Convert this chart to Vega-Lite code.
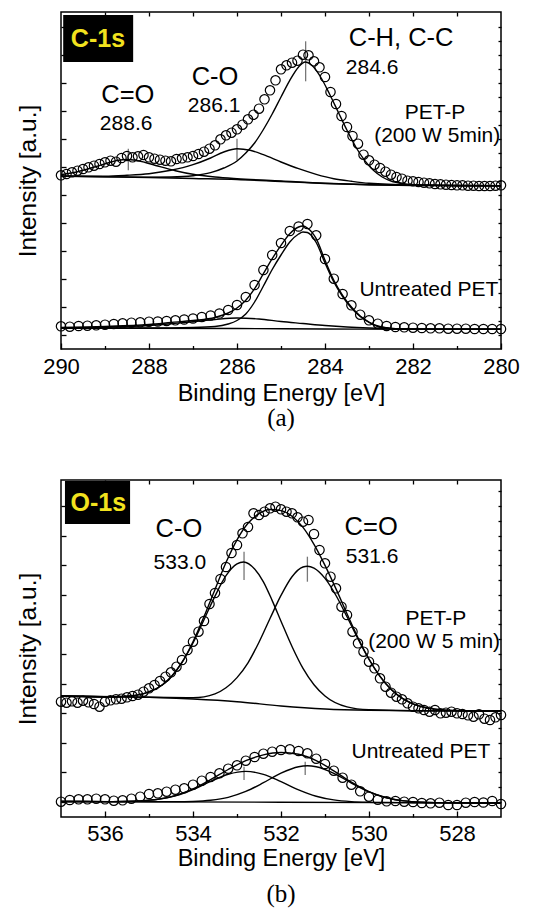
{
  "$schema": "https://vega.github.io/schema/vega-lite/v6.json",
  "padding": {"left": 14, "top": 10, "right": 5, "bottom": 5},
  "spacing": 131,
  "bounds": "flush",
  "config": {
    "font": "Liberation Sans",
    "view": {"stroke": "black", "strokeWidth": 1.5},
    "axis": {"domain": false, "grid": false, "tickColor": "black", "tickWidth": 1.3, "labelColor": "black", "titleColor": "black", "titleFontWeight": "normal"},
    "title": {"fontWeight": "normal", "color": "black"}
  },
  "datasets": {
    "a_box": [{"e": 289.95, "e2": 288.36, "i": 287, "i2": 334, "tx": 289.16, "ty": 310.5, "t": "C-1s"}],
    "b_box": [{"e": 536.91, "e2": 535.43, "i": 293, "i2": 336, "tx": 536.15, "ty": 314.3, "t": "O-1s"}],
    "a_mk": [
      {"e": 284.44, "i": 267.7, "i2": 307.7},
      {"e": 286.0, "i": 188.7, "i2": 210.3},
      {"e": 288.47, "i": 178.7, "i2": 200.3}
    ],
    "b_mk": [
      {"e": 532.84, "i": 237, "i2": 265.3},
      {"e": 531.4, "i": 235.3, "i2": 260.3},
      {"e": 532.84, "i": 37, "i2": 50.3},
      {"e": 531.45, "i": 42, "i2": 55.3}
    ],
    "a_txt": [
      {"e": 282.27, "i": 311, "t": "C-H, C-C", "k": "big"},
      {"e": 286.5, "i": 272, "t": "C-O", "k": "big"},
      {"e": 288.48, "i": 254, "t": "C=O", "k": "big"},
      {"e": 282.93, "i": 281, "t": "284.6", "k": "small"},
      {"e": 286.52, "i": 243, "t": "286.1", "k": "small"},
      {"e": 288.52, "i": 225, "t": "288.6", "k": "small"},
      {"e": 281.5, "i": 236, "t": "PET-P", "k": "small"},
      {"e": 281.45, "i": 213, "t": "(200 W 5min)", "k": "small"},
      {"e": 281.64, "i": 59, "t": "Untreated PET", "k": "small"}
    ],
    "b_txt": [
      {"e": 534.32, "i": 288, "t": "C-O", "k": "big"},
      {"e": 529.95, "i": 290, "t": "C=O", "k": "big"},
      {"e": 534.3, "i": 254, "t": "533.0", "k": "small"},
      {"e": 529.93, "i": 260, "t": "531.6", "k": "small"},
      {"e": 528.48, "i": 198, "t": "PET-P", "k": "small"},
      {"e": 528.52, "i": 175, "t": "(200 W 5 min)", "k": "small"},
      {"e": 528.82, "i": 65, "t": "Untreated PET", "k": "small"}
    ],
    "a_pts": [
      {"e":290.000,"i":173.7,"s":"P"},{"e":289.875,"i":175,"s":"P"},{"e":289.750,"i":176.7,"s":"P"},{"e":289.625,"i":178.3,"s":"P"},
      {"e":289.500,"i":180,"s":"P"},{"e":289.375,"i":181.7,"s":"P"},{"e":289.250,"i":183.3,"s":"P"},{"e":289.125,"i":185,"s":"P"},
      {"e":289.000,"i":186.7,"s":"P"},{"e":288.875,"i":188.3,"s":"P"},{"e":288.750,"i":187.3,"s":"P"},{"e":288.625,"i":191,"s":"P"},
      {"e":288.500,"i":193,"s":"P"},{"e":288.375,"i":191.7,"s":"P"},{"e":288.250,"i":192.7,"s":"P"},{"e":288.125,"i":194,"s":"P"},
      {"e":288.000,"i":191.7,"s":"P"},{"e":287.875,"i":190.3,"s":"P"},{"e":287.750,"i":189.3,"s":"P"},{"e":287.625,"i":188.3,"s":"P"},
      {"e":287.500,"i":187.7,"s":"P"},{"e":287.375,"i":190,"s":"P"},{"e":287.250,"i":190.7,"s":"P"},{"e":287.125,"i":191.7,"s":"P"},
      {"e":287.000,"i":193,"s":"P"},{"e":286.875,"i":195,"s":"P"},{"e":286.750,"i":197.3,"s":"P"},{"e":286.625,"i":200.3,"s":"P"},
      {"e":286.500,"i":203.7,"s":"P"},{"e":286.375,"i":209.7,"s":"P"},{"e":286.250,"i":213.7,"s":"P"},{"e":286.125,"i":216.3,"s":"P"},
      {"e":286.000,"i":219.7,"s":"P"},{"e":285.875,"i":224.3,"s":"P"},{"e":285.750,"i":229.7,"s":"P"},{"e":285.625,"i":234.3,"s":"P"},
      {"e":285.500,"i":240.3,"s":"P"},{"e":285.375,"i":249.7,"s":"P"},{"e":285.250,"i":258.7,"s":"P"},{"e":285.125,"i":268.7,"s":"P"},
      {"e":285.000,"i":279.7,"s":"P"},{"e":284.875,"i":283.7,"s":"P"},{"e":284.750,"i":286.3,"s":"P"},{"e":284.625,"i":288.3,"s":"P"},
      {"e":284.500,"i":294.3,"s":"P"},{"e":284.375,"i":293.7,"s":"P"},{"e":284.250,"i":287.7,"s":"P"},{"e":284.125,"i":281.7,"s":"P"},
      {"e":284.000,"i":272,"s":"P"},{"e":283.875,"i":257,"s":"P"},{"e":283.750,"i":245,"s":"P"},{"e":283.625,"i":233,"s":"P"},
      {"e":283.500,"i":222,"s":"P"},{"e":283.375,"i":213,"s":"P"},{"e":283.250,"i":205.3,"s":"P"},{"e":283.125,"i":194.3,"s":"P"},
      {"e":283.000,"i":188.7,"s":"P"},{"e":282.875,"i":184.3,"s":"P"},{"e":282.750,"i":181,"s":"P"},{"e":282.625,"i":177.3,"s":"P"},
      {"e":282.500,"i":174.3,"s":"P"},{"e":282.375,"i":172,"s":"P"},{"e":282.250,"i":170.3,"s":"P"},{"e":282.125,"i":168.3,"s":"P"},
      {"e":282.000,"i":167.7,"s":"P"},{"e":281.875,"i":167,"s":"P"},{"e":281.750,"i":166.3,"s":"P"},{"e":281.625,"i":165.7,"s":"P"},
      {"e":281.500,"i":165,"s":"P"},{"e":281.375,"i":164.7,"s":"P"},{"e":281.250,"i":164.3,"s":"P"},{"e":281.125,"i":164,"s":"P"},
      {"e":281.000,"i":163.7,"s":"P"},{"e":280.875,"i":163.7,"s":"P"},{"e":280.750,"i":163.3,"s":"P"},{"e":280.625,"i":163.3,"s":"P"},
      {"e":280.500,"i":163,"s":"P"},{"e":280.375,"i":163,"s":"P"},{"e":280.250,"i":163,"s":"P"},{"e":280.125,"i":163.3,"s":"P"},
      {"e":280.000,"i":163.7,"s":"P"},
      {"e":290.0,"i":22.7,"s":"U"},{"e":289.8,"i":22.3,"s":"U"},{"e":289.6,"i":23,"s":"U"},{"e":289.4,"i":23.3,"s":"U"},
      {"e":289.2,"i":23.7,"s":"U"},{"e":289.0,"i":24.3,"s":"U"},{"e":288.8,"i":25,"s":"U"},{"e":288.6,"i":25.7,"s":"U"},
      {"e":288.4,"i":26.3,"s":"U"},{"e":288.2,"i":26.7,"s":"U"},{"e":288.0,"i":27.3,"s":"U"},{"e":287.8,"i":27.5,"s":"U"},
      {"e":287.6,"i":28,"s":"U"},{"e":287.4,"i":28.7,"s":"U"},{"e":287.2,"i":29.5,"s":"U"},{"e":287.0,"i":30.5,"s":"U"},
      {"e":286.8,"i":32,"s":"U"},{"e":286.6,"i":33.5,"s":"U"},{"e":286.4,"i":35.5,"s":"U"},{"e":286.2,"i":39,"s":"U"},
      {"e":286.0,"i":44,"s":"U"},{"e":285.8,"i":52,"s":"U"},{"e":285.6,"i":64,"s":"U"},{"e":285.4,"i":79,"s":"U"},
      {"e":285.2,"i":94,"s":"U"},{"e":285.0,"i":106,"s":"U"},{"e":284.8,"i":118,"s":"U"},{"e":284.6,"i":122.5,"s":"U"},
      {"e":284.4,"i":125,"s":"U"},{"e":284.2,"i":113.7,"s":"U"},{"e":284.0,"i":90,"s":"U"},{"e":283.8,"i":70.3,"s":"U"},
      {"e":283.6,"i":55,"s":"U"},{"e":283.4,"i":43.7,"s":"U"},{"e":283.2,"i":34.3,"s":"U"},{"e":283.0,"i":28.7,"s":"U"},
      {"e":282.8,"i":25.3,"s":"U"},{"e":282.6,"i":23,"s":"U"},{"e":282.4,"i":22,"s":"U"},{"e":282.2,"i":21.7,"s":"U"},
      {"e":282.0,"i":21.3,"s":"U"},{"e":281.8,"i":21,"s":"U"},{"e":281.6,"i":20.7,"s":"U"},{"e":281.4,"i":20.7,"s":"U"},
      {"e":281.2,"i":20.3,"s":"U"},{"e":281.0,"i":20.3,"s":"U"},{"e":280.8,"i":20.3,"s":"U"},{"e":280.6,"i":20,"s":"U"},
      {"e":280.4,"i":20,"s":"U"},{"e":280.2,"i":20,"s":"U"},{"e":280.0,"i":20,"s":"U"}
    ],
    "a_lines": [
      {"e":290,"i":172.7,"c":"p_bg"},{"e":289,"i":172.3,"c":"p_bg"},{"e":288,"i":171.5,"c":"p_bg"},{"e":287,"i":170.5,"c":"p_bg"},
      {"e":286,"i":169.5,"c":"p_bg"},{"e":285,"i":167.5,"c":"p_bg"},{"e":284,"i":165.5,"c":"p_bg"},{"e":283,"i":164.3,"c":"p_bg"},
      {"e":282,"i":163.5,"c":"p_bg"},{"e":281,"i":163.3,"c":"p_bg"},{"e":280,"i":163.3,"c":"p_bg"},
      {"e":290,"i":174.3,"c":"p_cdo"},{"e":289.6,"i":177.5,"c":"p_cdo"},{"e":289.2,"i":182.5,"c":"p_cdo"},{"e":288.9,"i":186.5,"c":"p_cdo"},
      {"e":288.7,"i":188.7,"c":"p_cdo"},{"e":288.5,"i":189.5,"c":"p_cdo"},{"e":288.3,"i":188.7,"c":"p_cdo"},{"e":288.1,"i":186.8,"c":"p_cdo"},
      {"e":287.8,"i":183,"c":"p_cdo"},{"e":287.4,"i":178.3,"c":"p_cdo"},{"e":287,"i":174.7,"c":"p_cdo"},{"e":286.5,"i":172,"c":"p_cdo"},
      {"e":286,"i":170.3,"c":"p_cdo"},{"e":285,"i":168,"c":"p_cdo"},{"e":284,"i":165.7,"c":"p_cdo"},{"e":283,"i":164.3,"c":"p_cdo"},
      {"e":282,"i":163.7,"c":"p_cdo"},{"e":280,"i":163.3,"c":"p_cdo"},
      {"e":290,"i":173,"c":"p_co"},{"e":289,"i":172.8,"c":"p_co"},{"e":288.5,"i":173.7,"c":"p_co"},{"e":288,"i":175.3,"c":"p_co"},
      {"e":287.5,"i":178.7,"c":"p_co"},{"e":287,"i":184.3,"c":"p_co"},{"e":286.6,"i":191,"c":"p_co"},{"e":286.3,"i":197,"c":"p_co"},
      {"e":286,"i":200.3,"c":"p_co"},{"e":285.7,"i":198.7,"c":"p_co"},{"e":285.4,"i":194.3,"c":"p_co"},{"e":285,"i":187,"c":"p_co"},
      {"e":284.6,"i":180.3,"c":"p_co"},{"e":284.2,"i":174.7,"c":"p_co"},{"e":283.8,"i":170.3,"c":"p_co"},{"e":283.4,"i":167.7,"c":"p_co"},
      {"e":283,"i":165.7,"c":"p_co"},{"e":282,"i":164,"c":"p_co"},{"e":280,"i":163.3,"c":"p_co"},
      {"e":290,"i":172.7,"c":"p_ch"},{"e":289,"i":172.3,"c":"p_ch"},{"e":288,"i":171.8,"c":"p_ch"},{"e":287.5,"i":172,"c":"p_ch"},
      {"e":287,"i":173.3,"c":"p_ch"},{"e":286.6,"i":176.3,"c":"p_ch"},{"e":286.3,"i":181,"c":"p_ch"},{"e":286,"i":188,"c":"p_ch"},
      {"e":285.8,"i":196,"c":"p_ch"},{"e":285.6,"i":206,"c":"p_ch"},{"e":285.4,"i":219.5,"c":"p_ch"},{"e":285.2,"i":235,"c":"p_ch"},
      {"e":285,"i":252,"c":"p_ch"},{"e":284.8,"i":268.7,"c":"p_ch"},{"e":284.6,"i":282,"c":"p_ch"},{"e":284.45,"i":287,"c":"p_ch"},
      {"e":284.3,"i":283.7,"c":"p_ch"},{"e":284.1,"i":272,"c":"p_ch"},{"e":283.9,"i":255.3,"c":"p_ch"},{"e":283.7,"i":237,"c":"p_ch"},
      {"e":283.5,"i":218.7,"c":"p_ch"},{"e":283.3,"i":202,"c":"p_ch"},{"e":283.1,"i":188.7,"c":"p_ch"},{"e":282.9,"i":178.7,"c":"p_ch"},
      {"e":282.7,"i":172,"c":"p_ch"},{"e":282.5,"i":168,"c":"p_ch"},{"e":282.2,"i":165.3,"c":"p_ch"},{"e":281.8,"i":164,"c":"p_ch"},
      {"e":281,"i":163.3,"c":"p_ch"},{"e":280,"i":163.3,"c":"p_ch"},
      {"e":290,"i":20.8,"c":"u_bg"},{"e":286,"i":20.5,"c":"u_bg"},{"e":284,"i":20,"c":"u_bg"},{"e":282,"i":19.7,"c":"u_bg"},{"e":280,"i":19.7,"c":"u_bg"},
      {"e":290,"i":21,"c":"u_co"},{"e":289,"i":21.8,"c":"u_co"},{"e":288,"i":23.5,"c":"u_co"},{"e":287.5,"i":25.3,"c":"u_co"},
      {"e":287,"i":27.2,"c":"u_co"},{"e":286.5,"i":29.5,"c":"u_co"},{"e":286,"i":31,"c":"u_co"},{"e":285.5,"i":30,"c":"u_co"},
      {"e":285,"i":27.5,"c":"u_co"},{"e":284.5,"i":25.5,"c":"u_co"},{"e":284,"i":23.5,"c":"u_co"},{"e":283.5,"i":22,"c":"u_co"},
      {"e":283,"i":21,"c":"u_co"},{"e":282,"i":20,"c":"u_co"},{"e":280,"i":19.7,"c":"u_co"},
      {"e":290,"i":21,"c":"u_ch"},{"e":288,"i":21,"c":"u_ch"},{"e":287,"i":21.5,"c":"u_ch"},{"e":286.5,"i":22.5,"c":"u_ch"},
      {"e":286.2,"i":25,"c":"u_ch"},{"e":286,"i":28.5,"c":"u_ch"},{"e":285.8,"i":35,"c":"u_ch"},{"e":285.6,"i":47,"c":"u_ch"},
      {"e":285.4,"i":63,"c":"u_ch"},{"e":285.2,"i":79.5,"c":"u_ch"},{"e":285,"i":94,"c":"u_ch"},{"e":284.8,"i":107,"c":"u_ch"},
      {"e":284.6,"i":115,"c":"u_ch"},{"e":284.5,"i":117,"c":"u_ch"},{"e":284.4,"i":116.5,"c":"u_ch"},{"e":284.2,"i":106.5,"c":"u_ch"},
      {"e":284,"i":86,"c":"u_ch"},{"e":283.8,"i":67,"c":"u_ch"},{"e":283.6,"i":52.5,"c":"u_ch"},{"e":283.4,"i":41,"c":"u_ch"},
      {"e":283.2,"i":32.5,"c":"u_ch"},{"e":283,"i":26.5,"c":"u_ch"},{"e":282.8,"i":22.5,"c":"u_ch"},{"e":282.6,"i":21,"c":"u_ch"},
      {"e":282.4,"i":20.2,"c":"u_ch"},{"e":282,"i":19.8,"c":"u_ch"},{"e":280,"i":19.7,"c":"u_ch"},
      {"e":290,"i":21.5,"c":"u_env"},{"e":289,"i":22.5,"c":"u_env"},{"e":288,"i":24.5,"c":"u_env"},{"e":287.5,"i":26.5,"c":"u_env"},
      {"e":287,"i":28.5,"c":"u_env"},{"e":286.5,"i":31.5,"c":"u_env"},{"e":286.2,"i":36,"c":"u_env"},{"e":286,"i":41,"c":"u_env"},
      {"e":285.8,"i":48.7,"c":"u_env"},{"e":285.6,"i":60.3,"c":"u_env"},{"e":285.4,"i":75.3,"c":"u_env"},{"e":285.2,"i":90.3,"c":"u_env"},
      {"e":285,"i":103.7,"c":"u_env"},{"e":284.8,"i":115.3,"c":"u_env"},{"e":284.6,"i":122,"c":"u_env"},{"e":284.5,"i":123,"c":"u_env"},
      {"e":284.4,"i":121,"c":"u_env"},{"e":284.2,"i":110.3,"c":"u_env"},{"e":284,"i":88.7,"c":"u_env"},{"e":283.8,"i":68.7,"c":"u_env"},
      {"e":283.6,"i":53.7,"c":"u_env"},{"e":283.4,"i":42,"c":"u_env"},{"e":283.2,"i":33,"c":"u_env"},{"e":283,"i":27,"c":"u_env"},
      {"e":282.8,"i":23,"c":"u_env"},{"e":282.6,"i":21.3,"c":"u_env"},{"e":282.4,"i":20.3,"c":"u_env"},{"e":282,"i":20,"c":"u_env"},
      {"e":281,"i":19.7,"c":"u_env"},{"e":280,"i":19.7,"c":"u_env"}
    ],
    "b_pts": [
      {"e":537.000,"i":115.3,"s":"P"},{"e":536.875,"i":114.3,"s":"P"},{"e":536.750,"i":115.7,"s":"P"},{"e":536.625,"i":114.3,"s":"P"},
      {"e":536.500,"i":116.3,"s":"P"},{"e":536.375,"i":114.7,"s":"P"},{"e":536.250,"i":113,"s":"P"},{"e":536.125,"i":110.3,"s":"P"},
      {"e":536.000,"i":115.3,"s":"P"},{"e":535.875,"i":116.7,"s":"P"},{"e":535.750,"i":117.7,"s":"P"},{"e":535.625,"i":118.3,"s":"P"},
      {"e":535.500,"i":119.7,"s":"P"},{"e":535.375,"i":121,"s":"P"},{"e":535.250,"i":122.3,"s":"P"},{"e":535.125,"i":125.3,"s":"P"},
      {"e":535.000,"i":128.7,"s":"P"},{"e":534.875,"i":132,"s":"P"},{"e":534.750,"i":136,"s":"P"},{"e":534.625,"i":140.3,"s":"P"},
      {"e":534.500,"i":144.7,"s":"P"},{"e":534.375,"i":150.3,"s":"P"},{"e":534.250,"i":157,"s":"P"},{"e":534.125,"i":167,"s":"P"},
      {"e":534.000,"i":175.3,"s":"P"},{"e":533.875,"i":185.3,"s":"P"},{"e":533.750,"i":196,"s":"P"},{"e":533.625,"i":213,"s":"P"},
      {"e":533.500,"i":224,"s":"P"},{"e":533.375,"i":238,"s":"P"},{"e":533.250,"i":250,"s":"P"},{"e":533.125,"i":264,"s":"P"},
      {"e":533.000,"i":272,"s":"P"},{"e":532.875,"i":283.7,"s":"P"},{"e":532.750,"i":290,"s":"P"},{"e":532.625,"i":303.7,"s":"P"},
      {"e":532.500,"i":302,"s":"P"},{"e":532.375,"i":305.3,"s":"P"},{"e":532.250,"i":308.7,"s":"P"},{"e":532.125,"i":310.3,"s":"P"},
      {"e":532.000,"i":307.7,"s":"P"},{"e":531.875,"i":305.3,"s":"P"},{"e":531.750,"i":303.7,"s":"P"},{"e":531.625,"i":299.7,"s":"P"},
      {"e":531.500,"i":295.3,"s":"P"},{"e":531.375,"i":297,"s":"P"},{"e":531.250,"i":283,"s":"P"},{"e":531.125,"i":267,"s":"P"},
      {"e":531.000,"i":253.7,"s":"P"},{"e":530.875,"i":240.3,"s":"P"},{"e":530.750,"i":228.7,"s":"P"},{"e":530.625,"i":210.3,"s":"P"},
      {"e":530.500,"i":202,"s":"P"},{"e":530.375,"i":185.3,"s":"P"},{"e":530.250,"i":173.7,"s":"P"},{"e":530.125,"i":165.3,"s":"P"},
      {"e":530.000,"i":155.3,"s":"P"},{"e":529.875,"i":148.7,"s":"P"},{"e":529.750,"i":138.7,"s":"P"},{"e":529.625,"i":130.3,"s":"P"},
      {"e":529.500,"i":124.3,"s":"P"},{"e":529.375,"i":120.3,"s":"P"},{"e":529.250,"i":117.7,"s":"P"},{"e":529.125,"i":113.7,"s":"P"},
      {"e":529.000,"i":110.3,"s":"P"},{"e":528.875,"i":108.7,"s":"P"},{"e":528.750,"i":107,"s":"P"},{"e":528.625,"i":105.3,"s":"P"},
      {"e":528.500,"i":107,"s":"P"},{"e":528.375,"i":103.7,"s":"P"},{"e":528.250,"i":104.3,"s":"P"},{"e":528.125,"i":105.3,"s":"P"},
      {"e":528.000,"i":103.7,"s":"P"},{"e":527.875,"i":103,"s":"P"},{"e":527.750,"i":101.7,"s":"P"},{"e":527.625,"i":100.3,"s":"P"},
      {"e":527.500,"i":102.7,"s":"P"},{"e":527.375,"i":98.3,"s":"P"},{"e":527.250,"i":97,"s":"P"},{"e":527.125,"i":99.7,"s":"P"},
      {"e":527.000,"i":102,"s":"P"},
      {"e":537.0,"i":15.3,"s":"U"},{"e":536.8,"i":17,"s":"U"},{"e":536.6,"i":17.7,"s":"U"},{"e":536.4,"i":17.7,"s":"U"},
      {"e":536.2,"i":18.3,"s":"U"},{"e":536.0,"i":17.7,"s":"U"},{"e":535.8,"i":16.3,"s":"U"},{"e":535.6,"i":16.7,"s":"U"},
      {"e":535.4,"i":18.3,"s":"U"},{"e":535.2,"i":20.3,"s":"U"},{"e":535.0,"i":23,"s":"U"},{"e":534.8,"i":23.7,"s":"U"},
      {"e":534.6,"i":25.3,"s":"U"},{"e":534.4,"i":27.3,"s":"U"},{"e":534.2,"i":28.7,"s":"U"},{"e":534.0,"i":32.3,"s":"U"},
      {"e":533.8,"i":36.3,"s":"U"},{"e":533.6,"i":40,"s":"U"},{"e":533.4,"i":43.7,"s":"U"},{"e":533.2,"i":48.3,"s":"U"},
      {"e":533.0,"i":51.7,"s":"U"},{"e":532.8,"i":56.3,"s":"U"},{"e":532.6,"i":60,"s":"U"},{"e":532.4,"i":63.3,"s":"U"},
      {"e":532.2,"i":65.3,"s":"U"},{"e":532.0,"i":67,"s":"U"},{"e":531.8,"i":67.7,"s":"U"},{"e":531.6,"i":66,"s":"U"},
      {"e":531.4,"i":63.7,"s":"U"},{"e":531.2,"i":58.3,"s":"U"},{"e":531.0,"i":53,"s":"U"},{"e":530.8,"i":46.3,"s":"U"},
      {"e":530.6,"i":39.3,"s":"U"},{"e":530.4,"i":32.3,"s":"U"},{"e":530.2,"i":25.7,"s":"U"},{"e":530.0,"i":20.3,"s":"U"},
      {"e":529.8,"i":17.3,"s":"U"},{"e":529.6,"i":15.7,"s":"U"},{"e":529.4,"i":16,"s":"U"},{"e":529.2,"i":15.3,"s":"U"},
      {"e":529.0,"i":15,"s":"U"},{"e":528.8,"i":14,"s":"U"},{"e":528.6,"i":13.7,"s":"U"},{"e":528.4,"i":14.3,"s":"U"},
      {"e":528.2,"i":12,"s":"U"},{"e":528.0,"i":12,"s":"U"},{"e":527.8,"i":14.3,"s":"U"},{"e":527.6,"i":15,"s":"U"},
      {"e":527.4,"i":14.5,"s":"U"},{"e":527.2,"i":16,"s":"U"},{"e":527.0,"i":13,"s":"U"}
    ],
    "b_lines": [
      {"e":537,"i":121,"c":"p_env"},{"e":536.5,"i":120.7,"c":"p_env"},{"e":536,"i":120.2,"c":"p_env"},{"e":535.5,"i":120.8,"c":"p_env"},
      {"e":535,"i":125.2,"c":"p_env"},{"e":534.75,"i":130.5,"c":"p_env"},{"e":534.5,"i":140,"c":"p_env"},{"e":534.25,"i":154.8,"c":"p_env"},
      {"e":534,"i":175.3,"c":"p_env"},{"e":533.75,"i":200.4,"c":"p_env"},{"e":533.5,"i":227.6,"c":"p_env"},{"e":533.25,"i":254.5,"c":"p_env"},
      {"e":533,"i":277.2,"c":"p_env"},{"e":532.75,"i":293.7,"c":"p_env"},{"e":532.5,"i":303.3,"c":"p_env"},{"e":532.25,"i":307.5,"c":"p_env"},
      {"e":532,"i":306.4,"c":"p_env"},{"e":531.75,"i":300.8,"c":"p_env"},{"e":531.5,"i":289.6,"c":"p_env"},{"e":531.25,"i":272.6,"c":"p_env"},
      {"e":531,"i":251.6,"c":"p_env"},{"e":530.75,"i":228.1,"c":"p_env"},{"e":530.5,"i":203.3,"c":"p_env"},{"e":530.25,"i":179.3,"c":"p_env"},
      {"e":530,"i":158,"c":"p_env"},{"e":529.75,"i":140.7,"c":"p_env"},{"e":529.5,"i":127.8,"c":"p_env"},{"e":529.25,"i":118.8,"c":"p_env"},
      {"e":529,"i":113.2,"c":"p_env"},{"e":528.75,"i":109.8,"c":"p_env"},{"e":528.5,"i":107.9,"c":"p_env"},{"e":528,"i":106.4,"c":"p_env"},
      {"e":527,"i":106,"c":"p_env"},
      {"e":537,"i":121,"c":"p_co"},{"e":536,"i":120,"c":"p_co"},{"e":535.5,"i":120.8,"c":"p_co"},{"e":535,"i":125.2,"c":"p_co"},
      {"e":534.75,"i":130.5,"c":"p_co"},{"e":534.5,"i":139.8,"c":"p_co"},{"e":534.25,"i":154.3,"c":"p_co"},{"e":534,"i":174,"c":"p_co"},
      {"e":533.75,"i":197.3,"c":"p_co"},{"e":533.5,"i":220.9,"c":"p_co"},{"e":533.25,"i":241.3,"c":"p_co"},{"e":533,"i":253.1,"c":"p_co"},
      {"e":532.85,"i":255,"c":"p_co"},{"e":532.6,"i":248,"c":"p_co"},{"e":532.4,"i":235.2,"c":"p_co"},{"e":532.2,"i":216.4,"c":"p_co"},
      {"e":532,"i":195.8,"c":"p_co"},{"e":531.75,"i":170.5,"c":"p_co"},{"e":531.5,"i":148.6,"c":"p_co"},{"e":531.25,"i":132.3,"c":"p_co"},
      {"e":531,"i":121,"c":"p_co"},{"e":530.5,"i":110.1,"c":"p_co"},{"e":530,"i":107.2,"c":"p_co"},{"e":529,"i":106.3,"c":"p_co"},
      {"e":527,"i":106,"c":"p_co"},
      {"e":537,"i":121,"c":"p_cdo"},{"e":535,"i":119.7,"c":"p_cdo"},{"e":534,"i":119.3,"c":"p_cdo"},{"e":533.5,"i":123.2,"c":"p_cdo"},
      {"e":533.25,"i":129.2,"c":"p_cdo"},{"e":533,"i":139.4,"c":"p_cdo"},{"e":532.75,"i":154.2,"c":"p_cdo"},{"e":532.5,"i":174.8,"c":"p_cdo"},
      {"e":532.25,"i":198.5,"c":"p_cdo"},{"e":532,"i":221.6,"c":"p_cdo"},{"e":531.75,"i":240.3,"c":"p_cdo"},{"e":531.5,"i":250,"c":"p_cdo"},
      {"e":531.4,"i":250.7,"c":"p_cdo"},{"e":531.25,"i":248.8,"c":"p_cdo"},{"e":531,"i":238.6,"c":"p_cdo"},{"e":530.75,"i":221.5,"c":"p_cdo"},
      {"e":530.5,"i":200.2,"c":"p_cdo"},{"e":530.25,"i":178,"c":"p_cdo"},{"e":530,"i":157.5,"c":"p_cdo"},{"e":529.75,"i":140.6,"c":"p_cdo"},
      {"e":529.5,"i":127.7,"c":"p_cdo"},{"e":529.25,"i":118.8,"c":"p_cdo"},{"e":529,"i":113.2,"c":"p_cdo"},{"e":528.75,"i":109.8,"c":"p_cdo"},
      {"e":528.5,"i":107.9,"c":"p_cdo"},{"e":528,"i":106.4,"c":"p_cdo"},{"e":527,"i":106,"c":"p_cdo"},
      {"e":537,"i":121,"c":"p_bg"},{"e":536,"i":120.3,"c":"p_bg"},{"e":535,"i":119.7,"c":"p_bg"},{"e":534,"i":118,"c":"p_bg"},
      {"e":533,"i":115.3,"c":"p_bg"},{"e":532,"i":111,"c":"p_bg"},{"e":531,"i":108,"c":"p_bg"},{"e":530,"i":106.7,"c":"p_bg"},
      {"e":529,"i":106.3,"c":"p_bg"},{"e":527,"i":106,"c":"p_bg"},
      {"e":537,"i":15.5,"c":"u_bg"},{"e":532,"i":14.75,"c":"u_bg"},{"e":527,"i":14,"c":"u_bg"},
      {"e":537,"i":15.5,"c":"u_co"},{"e":536,"i":15.4,"c":"u_co"},{"e":535.6,"i":15.5,"c":"u_co"},{"e":535.2,"i":16.06,"c":"u_co"},
      {"e":534.8,"i":17.67,"c":"u_co"},{"e":534.4,"i":21.27,"c":"u_co"},{"e":534,"i":27.52,"c":"u_co"},{"e":533.6,"i":35.6,"c":"u_co"},
      {"e":533.2,"i":42.77,"c":"u_co"},{"e":532.8,"i":45.67,"c":"u_co"},{"e":532.4,"i":42.65,"c":"u_co"},{"e":532,"i":35.35,"c":"u_co"},
      {"e":531.6,"i":27.16,"c":"u_co"},{"e":531.2,"i":20.79,"c":"u_co"},{"e":530.8,"i":17.07,"c":"u_co"},{"e":530.4,"i":15.34,"c":"u_co"},
      {"e":530,"i":14.67,"c":"u_co"},{"e":529.6,"i":14.44,"c":"u_co"},{"e":529,"i":14.3,"c":"u_co"},{"e":527,"i":14,"c":"u_co"},
      {"e":537,"i":15.5,"c":"u_cdo"},{"e":535,"i":15.2,"c":"u_cdo"},{"e":534.4,"i":15.24,"c":"u_cdo"},{"e":534,"i":15.57,"c":"u_cdo"},
      {"e":533.6,"i":16.74,"c":"u_cdo"},{"e":533.2,"i":19.68,"c":"u_cdo"},{"e":532.8,"i":25.53,"c":"u_cdo"},{"e":532.4,"i":34.26,"c":"u_cdo"},
      {"e":532,"i":43.85,"c":"u_cdo"},{"e":531.6,"i":50.29,"c":"u_cdo"},{"e":531.4,"i":51.2,"c":"u_cdo"},{"e":531.2,"i":50.23,"c":"u_cdo"},
      {"e":530.8,"i":43.67,"c":"u_cdo"},{"e":530.4,"i":33.96,"c":"u_cdo"},{"e":530,"i":25.11,"c":"u_cdo"},{"e":529.6,"i":19.14,"c":"u_cdo"},
      {"e":529.2,"i":16.08,"c":"u_cdo"},{"e":528.8,"i":14.79,"c":"u_cdo"},{"e":528.4,"i":14.34,"c":"u_cdo"},{"e":528,"i":14.15,"c":"u_cdo"},
      {"e":527,"i":14,"c":"u_cdo"},
      {"e":537,"i":15.5,"c":"u_env"},{"e":536,"i":15.4,"c":"u_env"},{"e":535.6,"i":15.5,"c":"u_env"},{"e":535.2,"i":16.06,"c":"u_env"},
      {"e":534.8,"i":17.7,"c":"u_env"},{"e":534.4,"i":21.4,"c":"u_env"},{"e":534,"i":28.04,"c":"u_env"},{"e":533.6,"i":37.34,"c":"u_env"},
      {"e":533.2,"i":47.5,"c":"u_env"},{"e":532.8,"i":56.3,"c":"u_env"},{"e":532.4,"i":62.1,"c":"u_env"},{"e":532,"i":64.45,"c":"u_env"},
      {"e":531.6,"i":62.76,"c":"u_env"},{"e":531.2,"i":56.4,"c":"u_env"},{"e":530.8,"i":46.2,"c":"u_env"},{"e":530.4,"i":34.8,"c":"u_env"},
      {"e":530,"i":25.3,"c":"u_env"},{"e":529.6,"i":19.2,"c":"u_env"},{"e":529.2,"i":16.1,"c":"u_env"},{"e":528.8,"i":14.8,"c":"u_env"},
      {"e":528.4,"i":14.34,"c":"u_env"},{"e":528,"i":14.15,"c":"u_env"},{"e":527,"i":14,"c":"u_env"}
    ]
  },
  "vconcat": [
    {
      "width": 440,
      "height": 337,
      "title": {"text": "(a)", "orient": "bottom", "font": "Liberation Serif", "fontSize": 25, "fontWeight": "normal", "offset": 1},
      "resolve": {"axis": {"x": "independent", "y": "independent"}},
      "layer": [
        {
          "data": {"name": "a_box"},
          "mark": {"type": "rect", "color": "black"},
          "encoding": {
            "x": {"field": "e", "type": "quantitative", "scale": {"domain": [290, 280], "nice": false, "zero": false}, "axis": null},
            "x2": {"field": "e2"},
            "y": {"field": "i", "type": "quantitative", "scale": {"domain": [0, 337], "nice": false, "zero": false}, "axis": null},
            "y2": {"field": "i2"}
          }
        },
        {
          "data": {"name": "a_box"},
          "mark": {"type": "text", "font": "Liberation Sans", "fontWeight": "bold", "fontSize": 25, "color": "#f2e21e", "align": "center", "baseline": "middle"},
          "encoding": {
            "x": {"field": "tx", "type": "quantitative", "scale": {"domain": [290, 280], "nice": false, "zero": false}, "axis": null},
            "y": {"field": "ty", "type": "quantitative", "scale": {"domain": [0, 337], "nice": false, "zero": false}, "axis": null},
            "text": {"field": "t"}
          }
        },
        {
          "data": {"name": "a_mk"},
          "mark": {"type": "rule", "color": "#777777", "strokeWidth": 1.3},
          "encoding": {
            "x": {"field": "e", "type": "quantitative", "scale": {"domain": [290, 280], "nice": false, "zero": false},
                  "axis": {"orient": "top", "values": [289, 288, 287, 286, 285, 284, 283, 282, 281], "tickSize": -4, "labels": false, "title": null}},
            "y": {"field": "i", "type": "quantitative", "scale": {"domain": [0, 337], "nice": false, "zero": false}, "axis": null},
            "y2": {"field": "i2"}
          }
        },
        {
          "data": {"name": "a_lines"},
          "mark": {"type": "line", "color": "black", "strokeWidth": 1.4, "interpolate": "monotone"},
          "encoding": {
            "x": {"field": "e", "type": "quantitative", "scale": {"domain": [290, 280], "nice": false, "zero": false},
                  "axis": {"orient": "bottom", "values": [289, 287, 285, 283, 281], "tickSize": -3.5, "labels": false, "title": null}},
            "y": {"field": "i", "type": "quantitative", "scale": {"domain": [0, 337], "nice": false, "zero": false},
                  "axis": {"orient": "right", "values": [14, 28, 42, 56, 70, 84, 98, 112, 126, 140, 154, 168, 182, 196, 210, 224, 238, 252, 266, 280, 294, 308, 322], "tickSize": -3, "labels": false, "title": null}},
            "detail": {"field": "c"}
          }
        },
        {
          "data": {"name": "a_pts"},
          "mark": {"type": "point", "shape": "circle", "filled": false, "size": 88, "color": "black", "strokeWidth": 1.2, "opacity": 1},
          "encoding": {
            "x": {"field": "e", "type": "quantitative", "scale": {"domain": [290, 280], "nice": false, "zero": false},
                  "axis": {"orient": "bottom", "values": [290, 288, 286, 284, 282, 280], "tickSize": -6, "labelFontSize": 22, "labelPadding": 13, "labelFlush": false, "labelOverlap": false, "format": "d",
                           "title": "Binding Energy [eV]", "titleFontSize": 23.5, "titlePadding": 4}},
            "y": {"field": "i", "type": "quantitative", "scale": {"domain": [0, 337], "nice": false, "zero": false},
                  "axis": {"orient": "left", "values": [14, 42, 70, 98, 126, 154, 182, 210, 238, 266, 294, 322], "tickSize": -5, "labels": false,
                           "title": "Intensity [a.u.]", "titleFontSize": 24.5, "titlePadding": 20}}
          }
        },
        {
          "data": {"name": "a_txt"},
          "mark": {"type": "text", "font": "Liberation Sans", "color": "black", "align": "center", "baseline": "middle"},
          "encoding": {
            "x": {"field": "e", "type": "quantitative", "scale": {"domain": [290, 280], "nice": false, "zero": false}, "axis": null},
            "y": {"field": "i", "type": "quantitative", "scale": {"domain": [0, 337], "nice": false, "zero": false}, "axis": null},
            "text": {"field": "t"},
            "size": {"field": "k", "type": "nominal", "scale": {"domain": ["big", "small"], "range": [25.5, 21]}, "legend": null}
          }
        }
      ]
    },
    {
      "width": 440,
      "height": 337,
      "title": {"text": "(b)", "orient": "bottom", "font": "Liberation Serif", "fontSize": 25, "fontWeight": "normal", "offset": 12},
      "resolve": {"axis": {"x": "independent", "y": "independent"}},
      "layer": [
        {
          "data": {"name": "b_box"},
          "mark": {"type": "rect", "color": "black"},
          "encoding": {
            "x": {"field": "e", "type": "quantitative", "scale": {"domain": [537, 527], "nice": false, "zero": false}, "axis": null},
            "x2": {"field": "e2"},
            "y": {"field": "i", "type": "quantitative", "scale": {"domain": [0, 337], "nice": false, "zero": false}, "axis": null},
            "y2": {"field": "i2"}
          }
        },
        {
          "data": {"name": "b_box"},
          "mark": {"type": "text", "font": "Liberation Sans", "fontWeight": "bold", "fontSize": 25, "color": "#f2e21e", "align": "center", "baseline": "middle"},
          "encoding": {
            "x": {"field": "tx", "type": "quantitative", "scale": {"domain": [537, 527], "nice": false, "zero": false}, "axis": null},
            "y": {"field": "ty", "type": "quantitative", "scale": {"domain": [0, 337], "nice": false, "zero": false}, "axis": null},
            "text": {"field": "t"}
          }
        },
        {
          "data": {"name": "b_mk"},
          "mark": {"type": "rule", "color": "#777777", "strokeWidth": 1.3},
          "encoding": {
            "x": {"field": "e", "type": "quantitative", "scale": {"domain": [537, 527], "nice": false, "zero": false},
                  "axis": {"orient": "top", "values": [536, 535, 534, 533, 532, 531, 530, 529, 528], "tickSize": -4, "labels": false, "title": null}},
            "y": {"field": "i", "type": "quantitative", "scale": {"domain": [0, 337], "nice": false, "zero": false}, "axis": null},
            "y2": {"field": "i2"}
          }
        },
        {
          "data": {"name": "b_lines"},
          "mark": {"type": "line", "color": "black", "strokeWidth": 1.4, "interpolate": "monotone"},
          "encoding": {
            "x": {"field": "e", "type": "quantitative", "scale": {"domain": [537, 527], "nice": false, "zero": false},
                  "axis": {"orient": "bottom", "values": [535, 533, 531, 529], "tickSize": -3.5, "labels": false, "title": null}},
            "y": {"field": "i", "type": "quantitative", "scale": {"domain": [0, 337], "nice": false, "zero": false},
                  "axis": {"orient": "right", "values": [15, 29.8, 44.6, 59.4, 74.2, 89, 103.8, 118.6, 133.4, 148.2, 163, 177.8, 192.6, 207.4, 222.2, 237, 251.8, 266.6, 281.4, 296.2, 311, 325.8], "tickSize": -3, "labels": false, "title": null}},
            "detail": {"field": "c"}
          }
        },
        {
          "data": {"name": "b_pts"},
          "mark": {"type": "point", "shape": "circle", "filled": false, "size": 88, "color": "black", "strokeWidth": 1.2, "opacity": 1},
          "encoding": {
            "x": {"field": "e", "type": "quantitative", "scale": {"domain": [537, 527], "nice": false, "zero": false},
                  "axis": {"orient": "bottom", "values": [536, 534, 532, 530, 528], "tickSize": -6, "labelFontSize": 22, "labelPadding": 12, "labelFlush": false, "labelOverlap": false, "format": "d",
                           "title": "Binding Energy [eV]", "titleFontSize": 23.5, "titlePadding": 2}},
            "y": {"field": "i", "type": "quantitative", "scale": {"domain": [0, 337], "nice": false, "zero": false},
                  "axis": {"orient": "left", "values": [15, 44.6, 74.2, 103.8, 133.4, 163, 192.6, 222.2, 251.8, 281.4, 311], "tickSize": -5, "labels": false,
                           "title": "Intensity [a.u.]", "titleFontSize": 24.5, "titlePadding": 20}}
          }
        },
        {
          "data": {"name": "b_txt"},
          "mark": {"type": "text", "font": "Liberation Sans", "color": "black", "align": "center", "baseline": "middle"},
          "encoding": {
            "x": {"field": "e", "type": "quantitative", "scale": {"domain": [537, 527], "nice": false, "zero": false}, "axis": null},
            "y": {"field": "i", "type": "quantitative", "scale": {"domain": [0, 337], "nice": false, "zero": false}, "axis": null},
            "text": {"field": "t"},
            "size": {"field": "k", "type": "nominal", "scale": {"domain": ["big", "small"], "range": [25.5, 21]}, "legend": null}
          }
        }
      ]
    }
  ]
}
